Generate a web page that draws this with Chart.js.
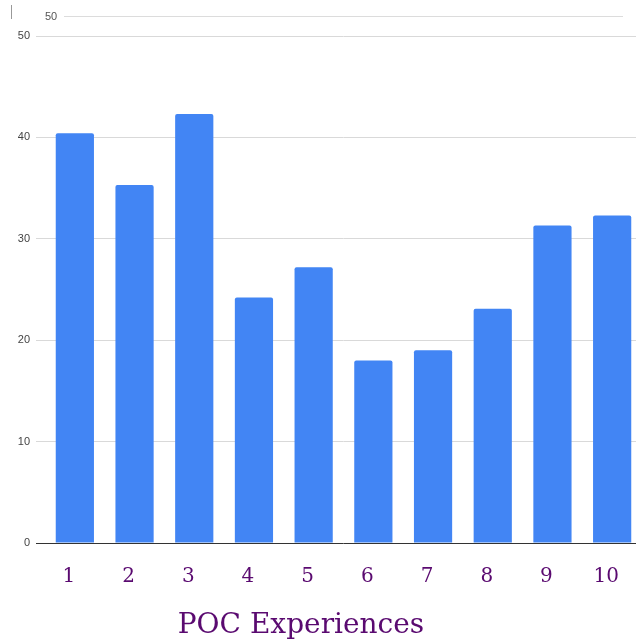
<!DOCTYPE html>
<html>
<head>
<meta charset="utf-8">
<script src="https://cdn.jsdelivr.net/npm/chart.js@4.4.1/dist/chart.umd.min.js"></script>
<style>
  html, body { margin: 0; padding: 0; background: #fff; overflow: hidden; }
  #wrap { position: relative; width: 642px; height: 642px; }
  #chart { position: absolute; left: 0; top: 0; }
  .ghost-line { position: absolute; left: 64px; top: 16px; width: 559px; height: 0; border-top: 1px solid #dcdcdc; }
  .ghost-label { position: absolute; left: 45px; top: 10px; font: 11px Arial, "Liberation Sans", sans-serif; color: #555; }
  .ghost-bar { position: absolute; left: 11px; top: 5px; width: 1px; height: 14px; background: #999; }
  #xtitle { position: absolute; left: 0; width: 602px; top: 607px; text-align: center;
            font: 28px "DejaVu Serif", serif; color: #5a0a70; }
</style>
</head>
<body>
<div id="wrap">
  <canvas id="chart" width="642" height="642"></canvas>
  <div class="ghost-bar"></div>
  <div class="ghost-label">50</div>
  <div class="ghost-line"></div>
  <div id="xtitle">POC Experiences</div>
</div>
<script>
// Categories and values for the bar series
const categories = ['1', '2', '3', '4', '5', '6', '7', '8', '9', '10'];
const values = [40.4, 35.3, 42.3, 24.2, 27.2, 18.0, 19.0, 23.1, 31.3, 32.3];
const yTicks = [0, 10, 20, 30, 40, 50];

const PURPLE = '#5a0a70';
const BLUE = '#4285f4';

new Chart(document.getElementById('chart'), {
  type: 'bar',
  data: {
    labels: categories,
    datasets: [{
      data: values,
      backgroundColor: BLUE,
      borderRadius: 2,
      borderSkipped: 'bottom',
      barPercentage: 0.64,
      categoryPercentage: 1.0
    }]
  },
  options: {
    responsive: false,
    animation: false,
    layout: { padding: { top: 36, left: 0, right: 0, bottom: 0 } },
    plugins: { legend: { display: false }, tooltip: { enabled: false } },
    scales: {
      x: {
        grid: { display: false },
        border: { display: false },
        ticks: {
          color: PURPLE,
          font: { family: '"DejaVu Serif", serif', size: 20 },
          padding: 14,
          labelOffset: -6,
          maxRotation: 0
        },
        afterFit(scale) { scale.height = 642 - 543; }
      },
      y: {
        min: 0,
        max: 50,
        afterBuildTicks(scale) { scale.ticks = yTicks.map(v => ({ value: v })); },
        afterFit(scale) { scale.width = 45; },
        border: { display: false },
        grid: {
          color: ctx => (ctx.tick && ctx.tick.value === 0 ? '#333333' : '#d9d9d9'),
          lineWidth: 1,
          tickLength: 9
        },
        ticks: {
          color: '#444',
          font: { family: 'Arial, "Liberation Sans", sans-serif', size: 11 },
          padding: 6
        }
      }
    }
  }
});
</script>
</body>
</html>
